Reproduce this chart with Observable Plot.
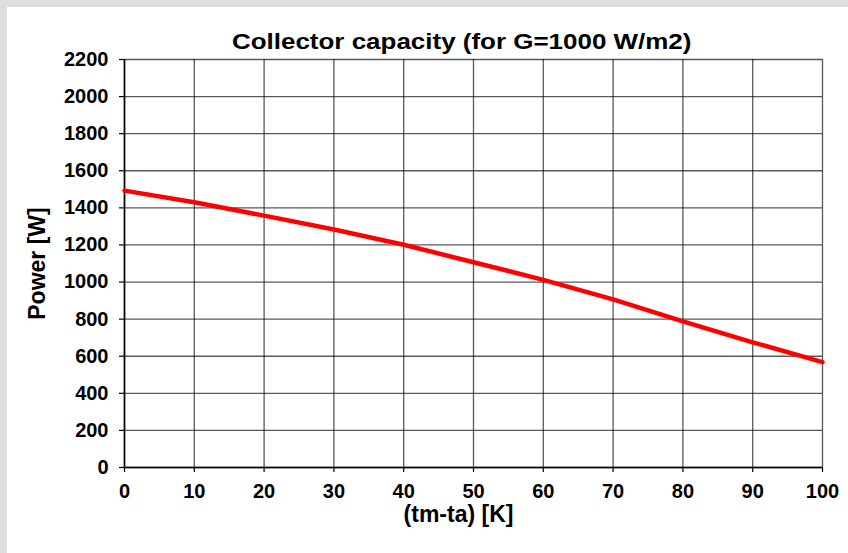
<!DOCTYPE html>
<html>
<head>
<meta charset="utf-8">
<script src="https://cdn.jsdelivr.net/npm/d3@7"></script>
<script src="https://cdn.jsdelivr.net/npm/@observablehq/plot@0.6"></script>
<style>
  html, body { margin: 0; padding: 0; background: #dedede; }
  #frame { position: absolute; left: 7px; top: 7px; width: 841px; height: 546px; background: #fff; }
  #title { height: 45px; line-height: 45px; padding-top: 12px; box-sizing: border-box; text-align: center;
           font-family: "Liberation Sans", Arial, sans-serif; font-weight: bold; font-size: 22px; color: #000;
           padding-left: 69px; }
  #title span { display: inline-block; transform: scaleX(1.18); }
</style>
</head>
<body>
<div id="frame">
  <div id="title"><span>Collector capacity (for G=1000 W/m2)</span></div>
  <div id="chart"></div>
</div>
<script>
const titleText = "Collector capacity (for G=1000 W/m2)";
const xLabel = "(tm-ta) [K]";
const yLabel = "Power [W]";
const deltaT = [0, 10, 20, 30, 40, 50, 60, 70, 80, 90, 100];
const power = [1493, 1430, 1358, 1283, 1201, 1107, 1012, 907, 788, 675, 568];
const xTicks = [0, 10, 20, 30, 40, 50, 60, 70, 80, 90, 100];
const yTicks = [0, 200, 400, 600, 800, 1000, 1200, 1400, 1600, 1800, 2000, 2200];

const data = deltaT.map((t, i) => ({t, p: power[i]}));

const chart = Plot.plot({
  width: 841,
  height: 501,
  marginLeft: 117,
  marginRight: 26,
  marginTop: 7,
  marginBottom: 86,
  style: {fontFamily: "'Liberation Sans', Arial, sans-serif", fontSize: "20px", fontWeight: "bold", color: "#000", background: "#fff", overflow: "visible"},
  x: {domain: [0, 100], ticks: xTicks},
  y: {domain: [0, 2200], ticks: yTicks},
  marks: [
    Plot.gridX(xTicks, {stroke: "#000", strokeOpacity: 0.65, strokeWidth: 1.3}),
    Plot.gridY(yTicks, {stroke: "#000", strokeOpacity: 0.65, strokeWidth: 1.3}),
    Plot.axisX(xTicks, {tickSize: 5, tickPadding: 11, label: null, tickFormat: d => String(d), stroke: "#000", strokeWidth: 1.2}),
    Plot.axisY(yTicks, {tickSize: 5, tickPadding: 11, label: null, tickFormat: d => String(d), stroke: "#000", strokeWidth: 1.2}),
    Plot.ruleY([0], {stroke: "#000", strokeWidth: 1.6}),
    Plot.ruleX([0], {stroke: "#000", strokeWidth: 1.6}),
    Plot.line(data, {x: "t", y: "p", stroke: "#ff0000", strokeWidth: 4.5}),
    Plot.text([xLabel], {frameAnchor: "bottom", textAnchor: "middle", dy: 54, dx: -15, text: d => d, fontSize: 23, fontWeight: "bold", fill: "#000"}),
    Plot.text([yLabel], {frameAnchor: "left", textAnchor: "middle", dx: -87, rotate: -90, text: d => d, fontSize: 23, fontWeight: "bold", fill: "#000"})
  ]
});
document.getElementById("chart").appendChild(chart);
</script>
</body>
</html>
